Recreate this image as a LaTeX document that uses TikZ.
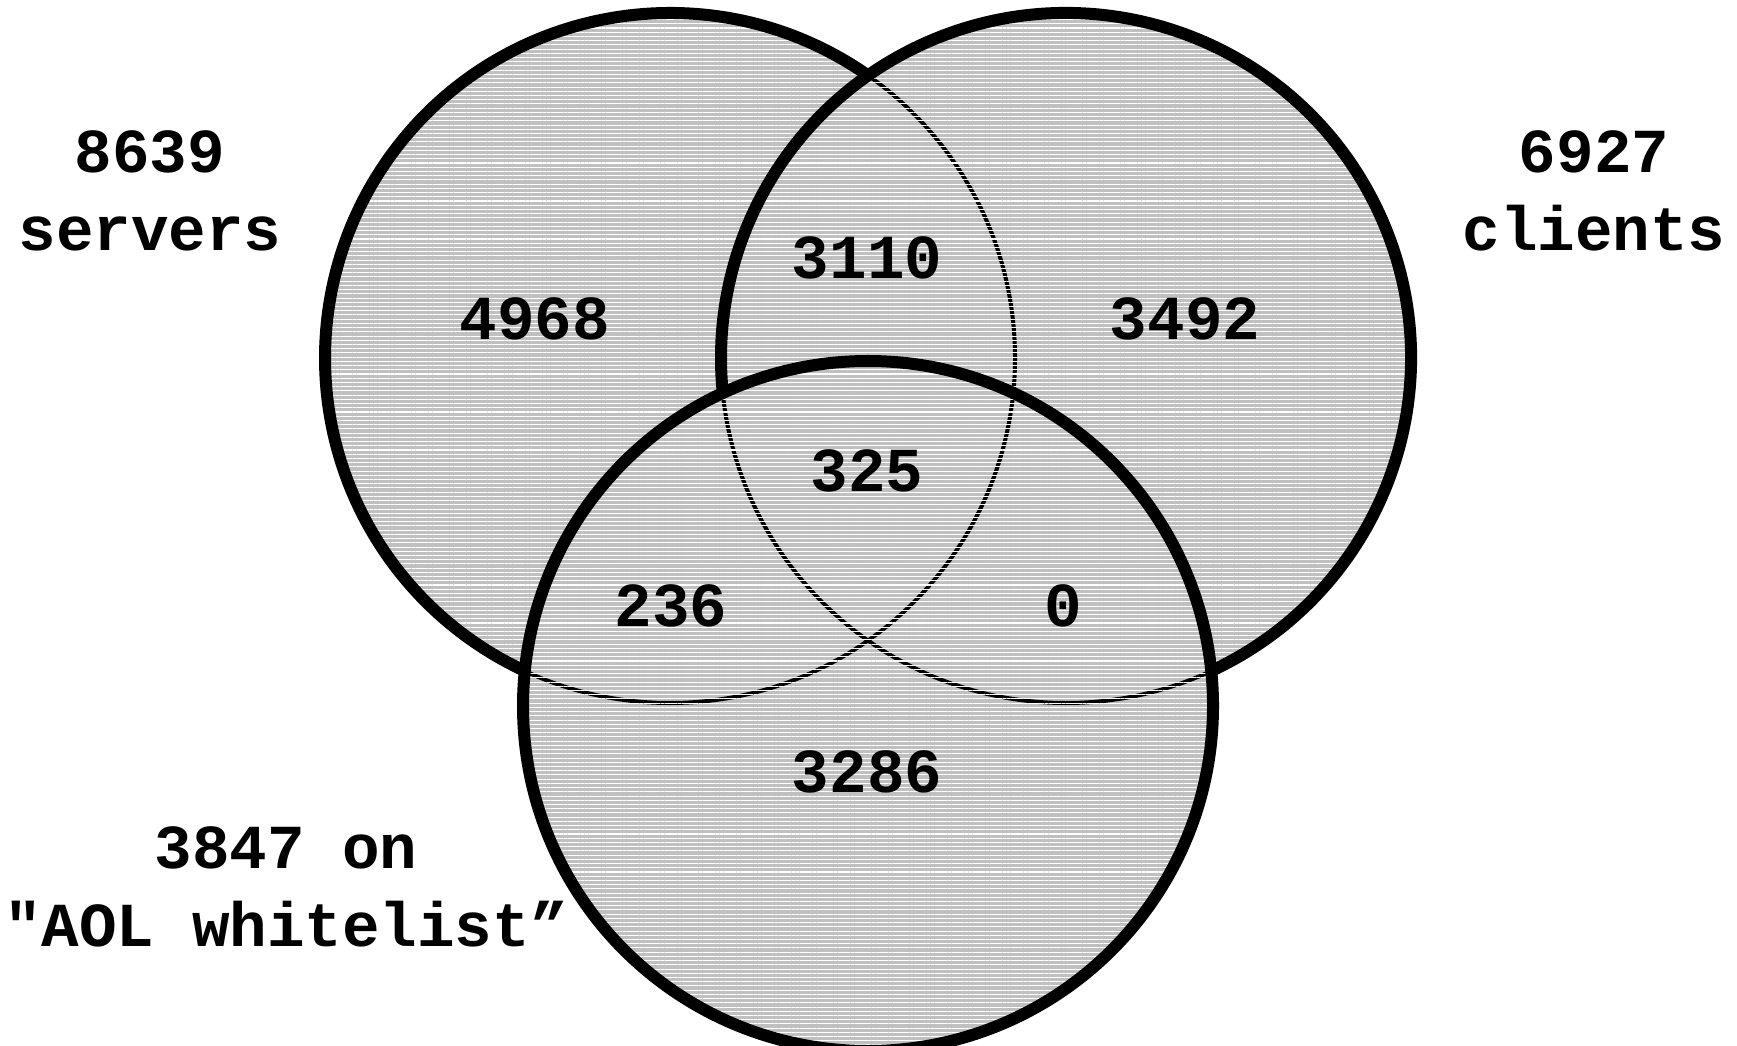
\documentclass[tikz,border=0pt]{standalone}
\usepackage{fontspec}
\newfontfamily\vennmono{Liberation Mono}
\usetikzlibrary{patterns.meta}
\definecolor{setgray}{RGB}{192,192,192}

\begin{document}
\begin{tikzpicture}[
    x=0.01cm, y=0.01cm,
    setfill/.style={fill=setgray},
    sethatch/.style={pattern={Lines[angle=0, distance=1.2pt, line width=0.3pt]}, pattern color=white},
    inner/.style={draw=black, line width=0.04cm},
    outer/.style={draw=black, line width=0.12cm},
    count/.style={font=\vennmono\bfseries\fontsize{17.8}{22}\selectfont, inner sep=0pt},
    setlabel/.style={count, align=center}
]
\useasboundingbox (0,0) rectangle (1737,1045);

% Set centres (all radius 345)
\coordinate (srv) at (670,687);
\coordinate (cli) at (1066,687);
\coordinate (aol) at (868,339);

% Grey fill, thin inner borders, then the stripes over it
\foreach \c in {srv,cli,aol}
    \path[setfill] (\c) circle[radius=345];
\foreach \c in {srv,cli,aol}
    \path[inner] (\c) circle[radius=345];
\foreach \c in {srv,cli,aol}
    \path[sethatch] (\c) circle[radius=345];

% Thick outline
\draw[outer] ([shift={(54.97:345)}]srv) arc[start angle=54.97, end angle=245.11, radius=345];
\draw[outer] ([shift={(-65.11:345)}]cli) arc[start angle=-65.11, end angle=185.83, radius=345];
\draw[outer] (aol) circle[radius=345];

% Set names
\node[setlabel] (servers) at (150,854) {8639\\servers};
\node[setlabel] (clients) at (1594,854) {6927\\clients};
\node[setlabel] (whitelist) at (286,158) {3847 on\\"AOL whitelist”};

% Region counts
\node[count] (s) at (535,726) {4968};
\node[count] (c) at (1185,726) {3492};
\node[count] (sc) at (867,787) {3110};
\node[count] (sca) at (867,574) {325};
\node[count] (sa) at (671,439) {236};
\node[count] (ca) at (1063,439) {0};
\node[count] (a) at (867,273) {3286};

\end{tikzpicture}
\end{document}
